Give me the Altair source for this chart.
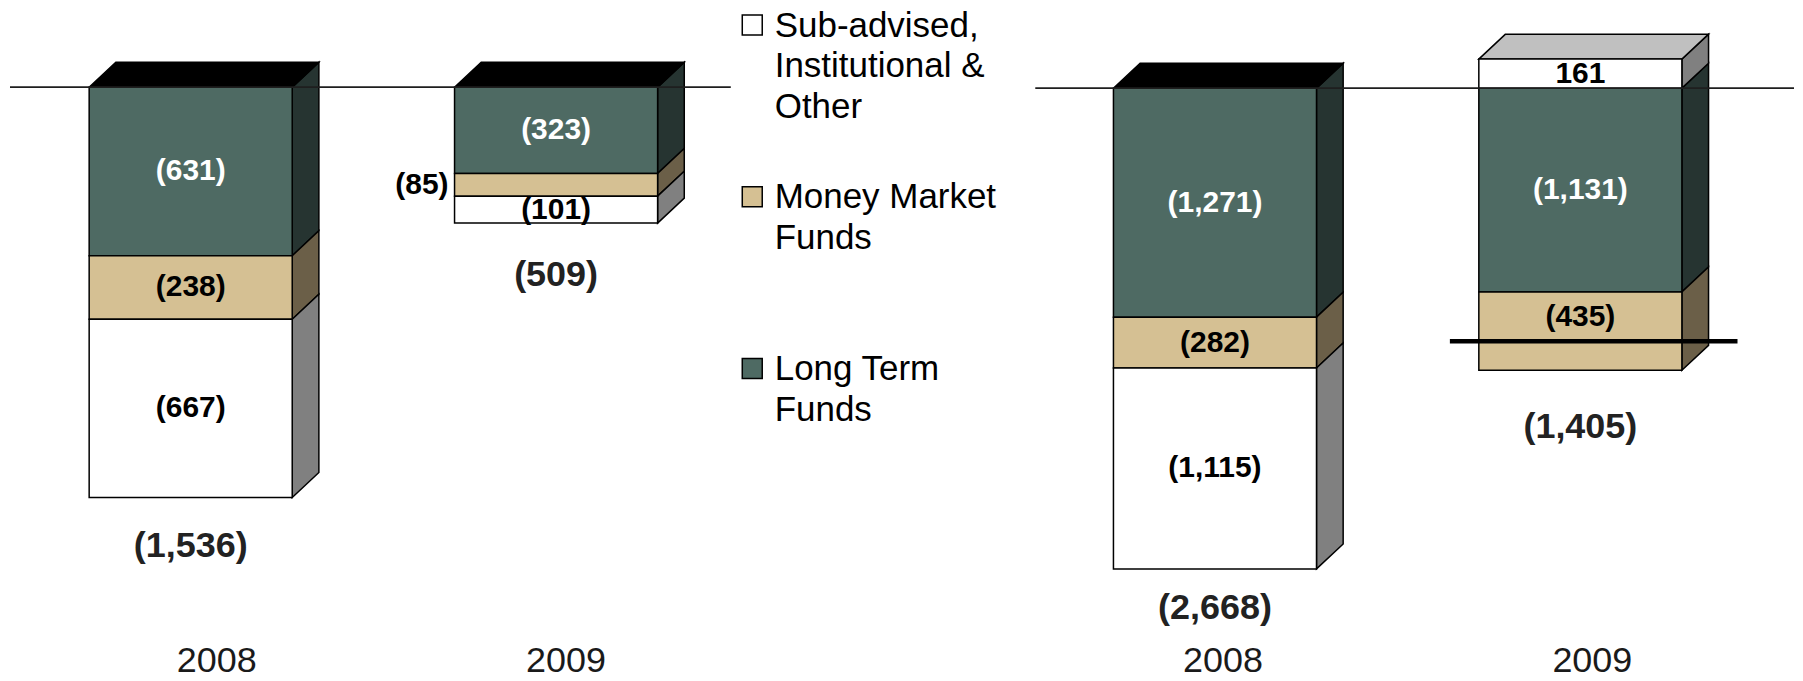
import altair as alt
import pandas as pd

# ---------------- data ----------------
categories = ["2008", "2009"]
segment_keys = ["long", "money", "sub"]          # stacking order, outwards from the zero line
legend_keys = ["sub", "money", "long"]
legend_labels = ["Sub-advised,\nInstitutional &\nOther", "Money Market\nFunds", "Long Term\nFunds"]

left_long_term = [-631, -323]
left_money_market = [-238, -85]
left_sub_advised = [-667, -101]
left_totals = [-1536, -509]

right_long_term = [-1271, -1131]
right_money_market = [-282, -435]
right_sub_advised = [-1115, 161]
right_totals = [-2668, -1405]

# ---------------- style / layout ----------------
FONT = "Liberation Sans, Arial, Helvetica, sans-serif"
FRONT = {"long": "#4E6A63", "money": "#D5C093", "sub": "#FFFFFF"}
SIDE = {"long": "#263431", "money": "#6B5F48", "sub": "#808080"}
TOP = {"long": "#000000", "money": "#8C7D5E", "sub": "#C0C0C0"}
LABEL_COLOR = {"long": "#FFFFFF", "money": "#000000", "sub": "#000000"}

H = 673
PITCH = 366.0       # px between the two bars of a panel
HALF_W = 101.7      # px, half width of a bar's front face
DEPTH_X = 26.7      # px, 3D depth to the right
DEPTH_Y = 25.0      # px, 3D depth upwards
SMALL_SEG_PX = 25   # segments thinner than this get their label outside
NET_OVERHANG = 29   # px the net-total line sticks out beyond the bar
OUTLINE = 1.5
XLABEL_BASELINE = H - 8


def fmt(v):
    s = f"{abs(v):,}"
    return f"({s})" if v < 0 else s


def panel(values, totals, W, c0, base_px, ppu, line_x0, line_x1, total_gaps, xlabel_offsets):
    xs = alt.Scale(domain=[-c0 / PITCH, (W - c0) / PITCH], nice=False, zero=False)
    ys = alt.Scale(domain=[-(H - base_px) / ppu, base_px / ppu], nice=False, zero=False)
    hw = HALF_W / PITCH
    dx = DEPTH_X / PITCH
    dy = DEPTH_Y / ppu

    front, side, top, lab, tot, net, xl = [], [], [], [], [], [], []
    for i, cat in enumerate(categories):
        c = float(i)
        pos = neg = 0.0
        segs = []
        for key in segment_keys:
            v = values[key][i]
            if v >= 0:
                lo, hi = pos, pos + v
                pos = hi
            else:
                lo, hi = neg + v, neg
                neg = lo
            segs.append((key, v, lo, hi))
        for key, v, lo, hi in segs:
            fid = f"{cat}-{key}"
            front.append(dict(x=c - hw, x2=c + hw, y=lo, y2=hi, fill=FRONT[key]))
            side.append(dict(id=fid, x=c + hw, y=lo, y2=hi, fill=SIDE[key]))
            side.append(dict(id=fid, x=c + hw + dx, y=lo + dy, y2=hi + dy, fill=SIDE[key]))
            inside = abs(v) * ppu >= SMALL_SEG_PX
            vis_lo = max(lo, totals[i]) if hi > totals[i] else lo
            lab.append(dict(x=c if inside else c - hw, y=(vis_lo + hi) / 2, text=fmt(v),
                            color=LABEL_COLOR[key], inside=inside))
        top_key = next(k for k, v, lo, hi in segs
                       if hi == pos and (v > 0 if pos > 0 else v < 0))
        top.append(dict(id=cat, y=pos, x=c - hw, x2=c + hw, fill=TOP[top_key]))
        top.append(dict(id=cat, y=pos + dy, x=c - hw + dx, x2=c + hw + dx, fill=TOP[top_key]))
        half = hw + dx / 2 + NET_OVERHANG / PITCH
        if totals[i] != neg:
            net.append(dict(x=c + dx / 2 - half, x2=c + dx / 2 + half, y=totals[i]))
        tot.append(dict(x=c, y=neg - total_gaps[i] / ppu, text=fmt(totals[i])))
        xl.append(dict(x=c + xlabel_offsets[i] / PITCH, text=cat))

    X = lambda f="x": alt.X(f"{f}:Q", scale=xs, axis=None)
    Y = lambda f="y": alt.Y(f"{f}:Q", scale=ys, axis=None, stack=None)

    sides = alt.Chart(pd.DataFrame(side)).mark_area(
        orient="vertical", stroke="black", strokeWidth=OUTLINE, strokeJoin="miter"
    ).encode(x=X(), y=Y(), y2="y2:Q", fill=alt.Fill("fill:N", scale=None), detail="id:N")

    tops = alt.Chart(pd.DataFrame(top)).mark_area(
        orient="horizontal", stroke="black", strokeWidth=OUTLINE, strokeJoin="miter"
    ).encode(y=Y(), x=alt.X("x:Q", scale=xs, axis=None, stack=None), x2="x2:Q",
             fill=alt.Fill("fill:N", scale=None), detail="id:N")

    fronts = alt.Chart(pd.DataFrame(front)).mark_rect(
        stroke="black", strokeWidth=OUTLINE
    ).encode(x=X(), x2="x2:Q", y=Y(), y2="y2:Q", fill=alt.Fill("fill:N", scale=None))

    base = alt.Chart(pd.DataFrame({"y": [0]})).mark_rule(color="#1e1e1e", strokeWidth=1.8).encode(
        x=alt.value(line_x0), x2=alt.value(line_x1), y=Y())

    labdf = pd.DataFrame(lab)
    lab_in = alt.Chart(labdf[labdf.inside]).mark_text(
        font=FONT, fontSize=30, fontWeight="bold", baseline="middle", align="center"
    ).encode(x=X(), y=Y(), text="text:N", color=alt.Color("color:N", scale=None))
    lab_out = alt.Chart(labdf[~labdf.inside]).mark_text(
        font=FONT, fontSize=30, fontWeight="bold", baseline="middle", align="right", dx=-6
    ).encode(x=X(), y=Y(), text="text:N", color=alt.Color("color:N", scale=None))

    totals_layer = alt.Chart(pd.DataFrame(tot)).mark_text(
        font=FONT, fontSize=36, fontWeight="bold", baseline="middle", color="#222222"
    ).encode(x=X(), y=Y(), text="text:N")

    xlabels = alt.Chart(pd.DataFrame(xl)).mark_text(
        font=FONT, fontSize=36, baseline="alphabetic", color="#1a1a1a"
    ).encode(x=X(), y=alt.value(XLABEL_BASELINE), text="text:N")

    layers = [sides, tops, fronts, base]
    if net:
        layers.append(alt.Chart(pd.DataFrame(net)).mark_rule(color="black", strokeWidth=4.5)
                      .encode(x=X(), x2="x2:Q", y=Y()))
    layers += [lab_in, lab_out, totals_layer, xlabels]
    return alt.layer(*layers).properties(width=W, height=H)


left = panel({"long": left_long_term, "money": left_money_market, "sub": left_sub_advised},
             left_totals, W=724, c0=183, base_px=78.7, ppu=0.2676,
             line_x0=2, line_x1=724, total_gaps=[49, 52], xlabel_offsets=[26, 10])

right = panel({"long": right_long_term, "money": right_money_market, "sub": right_sub_advised},
              right_totals, W=760, c0=180, base_px=79.7, ppu=0.1805,
              line_x0=0, line_x1=760, total_gaps=[39, 57], xlabel_offsets=[8, 12])

# ---------------- legend ----------------
LEG_W = 303
LEG_Y0 = 16.5
LEG_PITCH = 172.0
leg_df = pd.DataFrame({"slot": list(range(len(legend_keys))), "label": legend_labels,
                       "fill": [FRONT[k] for k in legend_keys]})
ly = alt.Scale(domain=[-LEG_Y0 / LEG_PITCH, (H - LEG_Y0) / LEG_PITCH], reverse=True, nice=False, zero=False)
leg_sq = alt.Chart(leg_df).mark_square(size=400, filled=True, opacity=1, stroke="black",
                                        strokeWidth=OUTLINE).encode(
    x=alt.value(20.5), y=alt.Y("slot:Q", scale=ly, axis=None), fill=alt.Fill("fill:N", scale=None))
leg_tx = alt.Chart(leg_df).mark_text(font=FONT, fontSize=35, align="left", baseline="alphabetic",
                                     dy=11.5, lineBreak="\n", lineHeight=41, color="black").encode(
    x=alt.value(43), y=alt.Y("slot:Q", scale=ly, axis=None), text="label:N")
legend = alt.layer(leg_sq, leg_tx).properties(width=LEG_W, height=H)

chart = alt.hconcat(left, legend, right, spacing=0).properties(padding=0).configure_view(stroke=None)

chart.save("out.html", embed_options={"renderer": "svg", "actions": False})
